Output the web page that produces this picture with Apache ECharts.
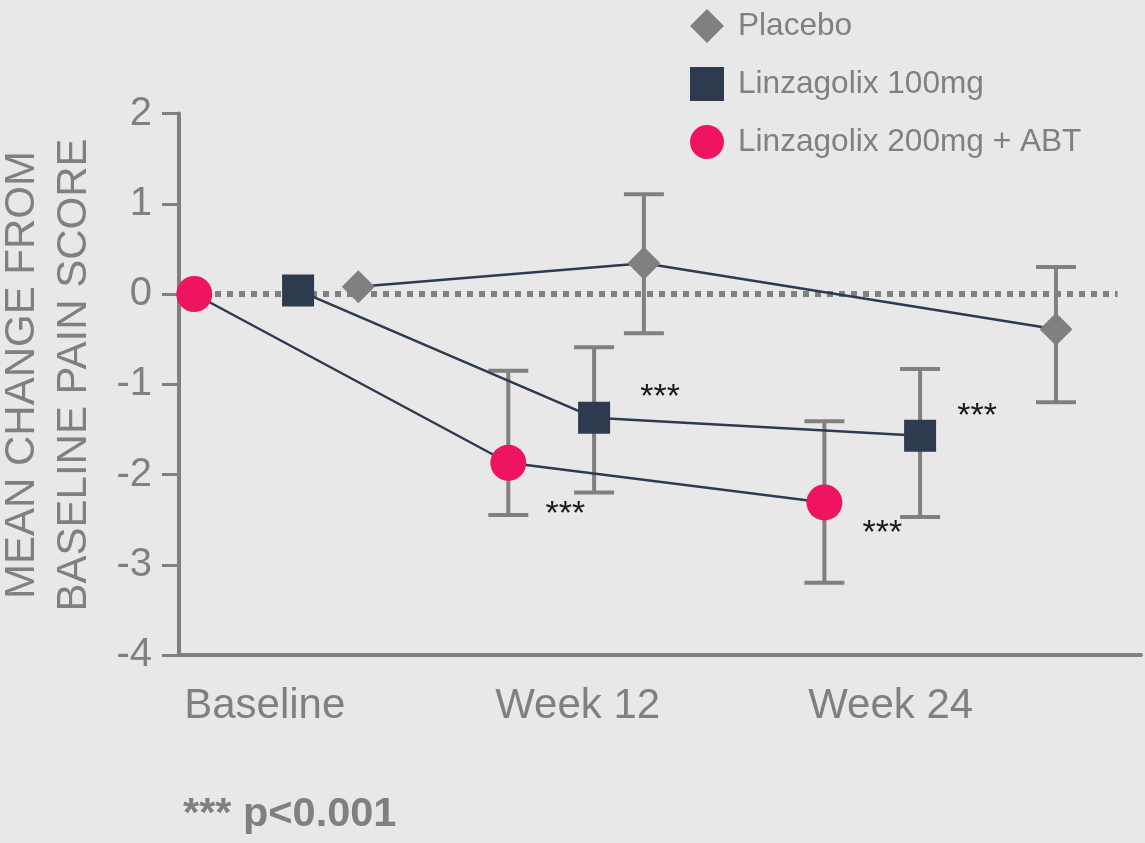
<!DOCTYPE html>
<html>
<head>
<meta charset="utf-8">
<title>Mean change from baseline pain score</title>
<script src="https://cdn.jsdelivr.net/npm/echarts@6/dist/echarts.min.js"></script>
<style>
  html, body { margin: 0; padding: 0; background: #e8e8e8; }
  #chart { width: 1145px; height: 843px; }
</style>
</head>
<body>
<div id="chart"></div>
<script>
// Visits shown on the x axis (week number -> label)
const visitWeeks = [0, 12, 24];
const visitLabels = ['Baseline', 'Week 12', 'Week 24'];

// Plotted week for each arm (arms are dodged around each visit)
const placeboWeek = [3.59, 14.54, 30.34];
const linz100Week = [1.28, 12.63, 25.13];
const linz200Week = [-2.70, 9.34, 21.46];

// Mean change from baseline pain score
const placeboMean = [0.08, 0.34, -0.39];
const linz100Mean = [0.04, -1.37, -1.57];
const linz200Mean = [0.00, -1.87, -2.31];

// Error bar ranges [low, high] (null = no bar)
const placeboErr = [null, [-0.435, 1.105], [-1.20, 0.30]];
const linz100Err = [null, [-2.20, -0.59], [-2.47, -0.83]];
const linz200Err = [null, [-2.45, -0.85], [-3.20, -1.41]];

// Significance markers per visit
const linz100Sig = ['', '***', '***'];
const linz200Sig = ['', '***', '***'];

const seriesNames = ['Placebo', 'Linzagolix 100mg', 'Linzagolix 200mg + ABT'];

const yTicks = { min: -4, max: 2, step: 1 };

// ---- styling ----
const GREY = '#808080';
const NAVY = '#2e3a4e';
const PINK = '#ef1461';
const FONT = '"Liberation Sans", Arial, Helvetica, sans-serif';

// where the "***" sits relative to its marker
const sigOffsets = {
  linz100: [null, [66, -20], [57, -19]],
  linz200: [null, [57, 52], [58, 31]]
};

function lineData(weeks, means, sig, offsets) {
  return means.map(function (m, i) {
    const item = { value: [weeks[i], m] };
    if (sig && sig[i]) {
      item.label = {
        show: true,
        formatter: sig[i],
        position: 'inside',
        offset: offsets[i],
        color: '#1a1a1a',
        fontSize: 34,
        fontFamily: FONT,
        align: 'center',
        verticalAlign: 'middle'
      };
    }
    return item;
  });
}

function errData(weeks, errs) {
  const out = [];
  errs.forEach(function (e, i) {
    if (e) out.push([weeks[i], e[0], e[1]]);
  });
  return out;
}

function renderErrorBar(params, api) {
  const x = api.value(0);
  const lo = api.coord([x, api.value(1)]);
  const hi = api.coord([x, api.value(2)]);
  const half = 20;
  const style = { stroke: GREY, lineWidth: 4 };
  return {
    type: 'group',
    children: [
      { type: 'line', shape: { x1: lo[0], y1: lo[1], x2: hi[0], y2: hi[1] }, style: style },
      { type: 'line', shape: { x1: hi[0] - half, y1: hi[1], x2: hi[0] + half, y2: hi[1] }, style: style },
      { type: 'line', shape: { x1: lo[0] - half, y1: lo[1], x2: lo[0] + half, y2: lo[1] }, style: style }
    ]
  };
}

function errSeries(weeks, errs) {
  return {
    type: 'custom',
    renderItem: renderErrorBar,
    data: errData(weeks, errs),
    encode: { x: 0, y: [1, 2] },
    z: 1,
    silent: true
  };
}

const xMin = -3.286;
const xMax = 33.6;
const zeroLineEnd = 32.7;

const chart = echarts.init(document.getElementById('chart'), null, { renderer: 'canvas' });

const option = {
  backgroundColor: '#e8e8e8',
  animation: false,
  grid: { left: 179, right: 4, top: 113.5, bottom: 188 },
  legend: {
    orient: 'vertical',
    left: 685,
    top: 4,
    itemWidth: 34,
    itemHeight: 34,
    itemGap: 24,
    selectedMode: false,
    textStyle: {
      color: GREY,
      fontSize: 31.6,
      fontFamily: FONT,
      lineHeight: 34,
      padding: [0, 0, 0, 9]
    },
    data: [
      { name: seriesNames[0], icon: 'diamond' },
      { name: seriesNames[1], icon: 'rect' },
      { name: seriesNames[2], icon: 'circle' }
    ]
  },
  xAxis: {
    type: 'value',
    min: xMin,
    max: xMax,
    splitLine: { show: false },
    axisLine: { show: true, onZero: false, lineStyle: { color: GREY, width: 4 } },
    axisTick: { show: false },
    axisLabel: {
      customValues: visitWeeks,
      formatter: function (v) {
        const i = visitWeeks.indexOf(v);
        return i >= 0 ? visitLabels[i] : '';
      },
      color: GREY,
      fontSize: 42,
      fontFamily: FONT,
      margin: 30
    }
  },
  yAxis: {
    type: 'value',
    min: yTicks.min,
    max: yTicks.max,
    interval: yTicks.step,
    splitLine: { show: false },
    axisLine: { show: true, onZero: false, lineStyle: { color: GREY, width: 4 } },
    axisTick: { show: true, length: 17, lineStyle: { color: GREY, width: 3 } },
    axisLabel: {
      color: GREY,
      fontSize: 40,
      fontFamily: FONT,
      margin: 27
    }
  },
  graphic: [
    {
      type: 'text',
      x: 48,
      y: 375,
      rotation: Math.PI / 2,
      style: {
        text: 'MEAN CHANGE FROM\nBASELINE PAIN SCORE',
        fill: GREY,
        font: '42px ' + FONT,
        align: 'center',
        verticalAlign: 'middle',
        lineHeight: 52
      }
    },
    {
      type: 'text',
      x: 183,
      y: 815,
      style: {
        text: '*** p<0.001',
        fill: GREY,
        font: 'bold 41.5px ' + FONT,
        align: 'left',
        verticalAlign: 'middle'
      }
    }
  ],
  series: [
    errSeries(placeboWeek, placeboErr),
    errSeries(linz100Week, linz100Err),
    errSeries(linz200Week, linz200Err),
    {
      name: seriesNames[0],
      type: 'line',
      z: 3,
      symbol: 'diamond',
      symbolSize: 33,
      itemStyle: { color: GREY },
      lineStyle: { color: NAVY, width: 2.5 },
      data: lineData(placeboWeek, placeboMean),
      markLine: {
        silent: true,
        symbol: 'none',
        label: { show: false },
        z: 0,
        lineStyle: { color: GREY, width: 6, type: [6, 6], cap: 'butt' },
        data: [[{ coord: [xMin, 0] }, { coord: [zeroLineEnd, 0] }]]
      }
    },
    {
      name: seriesNames[1],
      type: 'line',
      z: 4,
      symbol: 'rect',
      symbolSize: 32,
      itemStyle: { color: NAVY },
      lineStyle: { color: NAVY, width: 2.5 },
      data: lineData(linz100Week, linz100Mean, linz100Sig, sigOffsets.linz100)
    },
    {
      name: seriesNames[2],
      type: 'line',
      z: 5,
      symbol: 'circle',
      symbolSize: 36,
      itemStyle: { color: PINK },
      lineStyle: { color: NAVY, width: 2.5 },
      data: lineData(linz200Week, linz200Mean, linz200Sig, sigOffsets.linz200)
    }
  ]
};

chart.setOption(option);
</script>
</body>
</html>
